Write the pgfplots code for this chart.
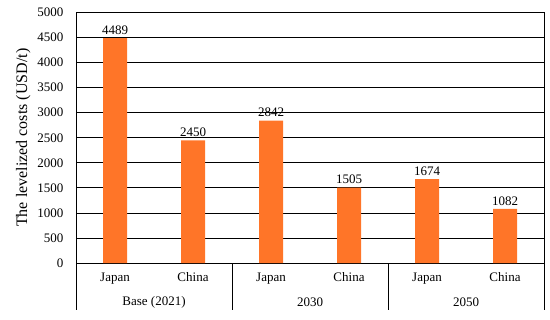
\documentclass[border=0pt]{standalone}
\usepackage{pgfplots}
\pgfplotsset{compat=1.18}
\usepackage{fontspec}
\setmainfont{Liberation Serif}
\definecolor{barorange}{RGB}{255,117,40}
\begin{document}
\begin{tikzpicture}[font=\fontsize{13}{15}\selectfont]
\begin{axis}[
  scale only axis,
  width=468pt, height=250.5pt,
  xmin=-0.5, xmax=5.5,
  ymin=0, ymax=5000,
  ytick={0,500,...,5000},
  xtick={0,1,2,3,4,5},
  xticklabels={Japan,China,Japan,China,Japan,China},
  major tick length=0pt,
  ymajorgrids,
  grid style={black, line width=0.8pt},
  axis line style={black, line width=0.8pt},
  /pgf/number format/assume math mode=true,
  /pgf/number format/1000 sep={},
  yticklabel style={xshift=-9pt},
  xticklabel style={yshift=-6pt},
  ylabel={The levelized costs (USD/t)},
  ylabel style={font=\fontsize{16}{18}\selectfont, yshift=0pt},
  clip=false,
  ybar, bar width=24pt,
  nodes near coords,
  nodes near coords style={font=\fontsize{13}{15}\selectfont, /pgf/number format/assume math mode=true, /pgf/number format/1000 sep={}},
  axis on top=false,
]
\addplot[fill=barorange, draw=none] coordinates {(0,4489) (1,2450) (2,2842) (3,1505) (4,1674) (5,1082)};
\draw[black, line width=0.8pt] (axis cs:-0.5,0) -- ([yshift=-47pt]axis cs:-0.5,0);
\draw[black, line width=0.8pt] (axis cs:1.5,0) -- ([yshift=-47pt]axis cs:1.5,0);
\draw[black, line width=0.8pt] (axis cs:3.5,0) -- ([yshift=-47pt]axis cs:3.5,0);
\draw[black, line width=0.8pt] (axis cs:5.5,0) -- ([yshift=-47pt]axis cs:5.5,0);
\node at ([yshift=-39pt]axis cs:0.5,0) {Base (2021)};
\node at ([yshift=-39pt]axis cs:2.5,0) {2030};
\node at ([yshift=-39pt]axis cs:4.5,0) {2050};
\path (rel axis cs:-0.1624,-0.2275) rectangle (rel axis cs:1.0128,1.0499);
\end{axis}
\end{tikzpicture}
\end{document}
